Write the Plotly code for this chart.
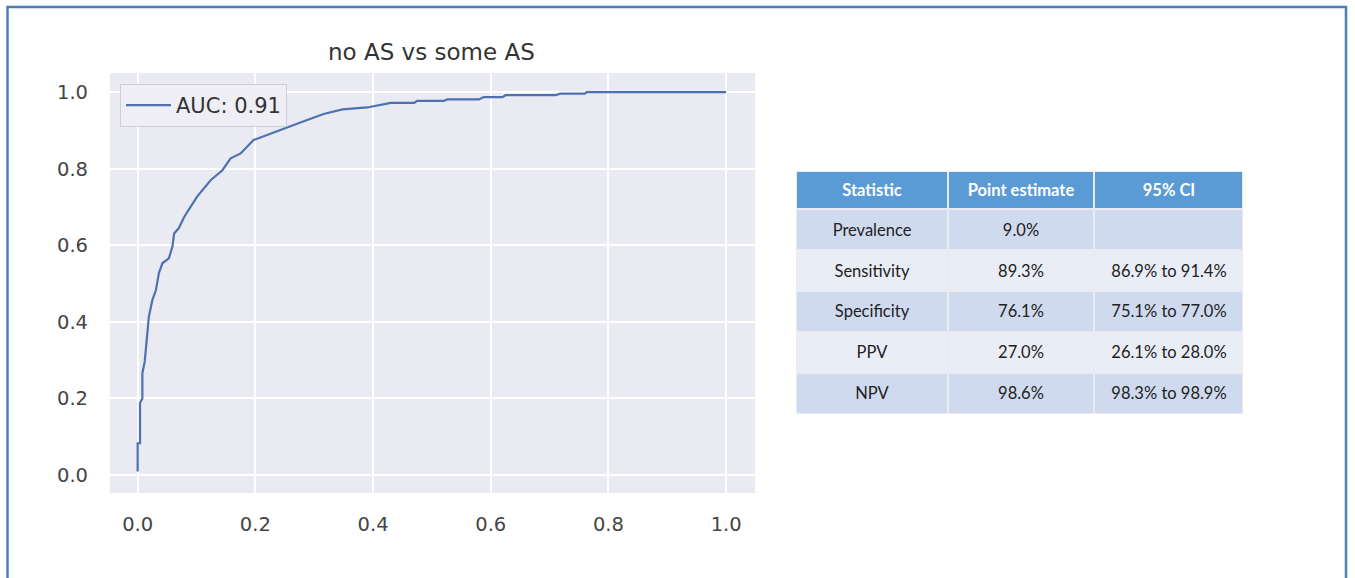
import plotly.graph_objects as go

W, H = 1355, 578

# ROC curve points
fpr = [0.0, 0.0, 0.004, 0.004, 0.008, 0.008, 0.012, 0.014, 0.016, 0.019, 0.025, 0.031,
       0.036, 0.042, 0.053, 0.059, 0.062, 0.070, 0.079, 0.101, 0.124, 0.144, 0.158, 0.175,
       0.197, 0.226, 0.254, 0.288, 0.316, 0.348, 0.39, 0.413, 0.43, 0.47, 0.475, 0.52,
       0.526, 0.58, 0.588, 0.62, 0.625, 0.71, 0.718, 0.76, 0.763, 1.0]
tpr = [0.009, 0.083, 0.083, 0.188, 0.20, 0.266, 0.296, 0.335, 0.378, 0.413, 0.457, 0.483,
       0.527, 0.553, 0.566, 0.596, 0.631, 0.645, 0.674, 0.727, 0.770, 0.796, 0.827, 0.840,
       0.875, 0.892, 0.909, 0.927, 0.943, 0.955, 0.960, 0.966, 0.972, 0.972, 0.977, 0.977,
       0.981, 0.981, 0.987, 0.987, 0.992, 0.992, 0.996, 0.996, 1.0, 1.0]
auc_label = "AUC: 0.91"
title_text = "no AS vs some AS"
tick_vals = [0.0, 0.2, 0.4, 0.6, 0.8, 1.0]

# Table data
tbl_header = ["Statistic", "Point estimate", "95% CI"]
tbl_stat = ["Prevalence", "Sensitivity", "Specificity", "PPV", "NPV"]
tbl_point = ["9.0%", "89.3%", "76.1%", "27.0%", "98.6%"]
tbl_ci = ["", "86.9% to 91.4%", "75.1% to 77.0%", "26.1% to 28.0%", "98.3% to 98.9%"]

# table geometry (cell edges in pixels, relative to the table's top-left)
col_edges = [0, 151, 297, 445]
row_edges = [0, 38, 79, 119.5, 160, 201, 242]

header_color, dark_row, light_row = "#5B9BD5", "#CFDAEE", "#E9EDF6"

# build heatmap grid: level 2 = header, 1 = dark row, 0 = light row
z, txt = [], []
z.append([2] * len(tbl_header))
txt.append(["<b><span style='color:white'>%s</span></b>" % h for h in tbl_header])
for i, row in enumerate(zip(tbl_stat, tbl_point, tbl_ci)):
    z.append([1 if i % 2 == 0 else 0] * 3)
    txt.append(list(row))

fig = go.Figure()
fig.add_trace(go.Scatter(x=fpr, y=tpr, mode="lines", name=auc_label,
                         line=dict(color="#4C72B0", width=2.2)))

fig.add_trace(go.Heatmap(
    x=col_edges, y=row_edges, z=z, text=txt, texttemplate="%{text}",
    textfont=dict(family="Lato", size=16.5, color="#222222"),
    colorscale=[[0, light_row], [0.5, dark_row], [1, header_color]],
    zmin=0, zmax=2, showscale=False, xgap=2, ygap=2, hoverinfo="skip",
    xaxis="x2", yaxis="y2", showlegend=False,
))

fig.update_layout(
    width=W, height=H,
    margin=dict(l=0, r=0, t=0, b=0),
    paper_bgcolor="white", plot_bgcolor="#EAEAF2",
    font=dict(family="DejaVu Sans", color="#444444"),
    showlegend=True,
    legend=dict(x=120 / W, y=1 - 84 / H, xanchor="left", yanchor="top",
                bgcolor="#EEEEF4", bordercolor="#CDCDD4", borderwidth=1,
                itemwidth=45, tracegroupgap=0,
                font=dict(size=21, color="#333333", family="DejaVu Sans")),
    xaxis=dict(domain=[110 / W, 755 / W], range=[-0.047, 1.049],
               tickvals=tick_vals, tickformat=".1f", showgrid=True,
               gridcolor="white", gridwidth=1.5, zeroline=False, showline=False,
               ticks="", ticklabelstandoff=17, tickfont=dict(size=19.5, color="#444444")),
    yaxis=dict(domain=[(H - 493) / H, (H - 73) / H], range=[-0.047, 1.05],
               tickvals=tick_vals, tickformat=".1f", showgrid=True,
               gridcolor="white", gridwidth=1.5, zeroline=False, showline=False,
               ticks="", ticklabelstandoff=21, tickfont=dict(size=19.5, color="#444444")),
    xaxis2=dict(domain=[796 / W, 1243 / W], range=[col_edges[0], col_edges[-1]],
                visible=False, showgrid=False, zeroline=False, fixedrange=True),
    yaxis2=dict(domain=[1 - 414 / H, 1 - 171 / H], range=[row_edges[-1], row_edges[0]],
                visible=False, showgrid=False, zeroline=False, fixedrange=True),
    annotations=[dict(text=title_text, x=431 / W, y=1 - 52 / H, xref="paper", yref="paper",
                      xanchor="center", yanchor="middle", showarrow=False,
                      font=dict(size=23, color="#333333", family="DejaVu Sans"))],
    shapes=[dict(type="rect", xref="paper", yref="paper",
                 x0=7.5 / W, x1=1346 / W, y0=-0.1, y1=1 - 7 / H,
                 line=dict(color="#4F7EB3", width=2.5), fillcolor="rgba(0,0,0,0)")],
)

fig.write_html("out.html", config={"displayModeBar": False},
               post_script="document.body.style.margin='0px';")
